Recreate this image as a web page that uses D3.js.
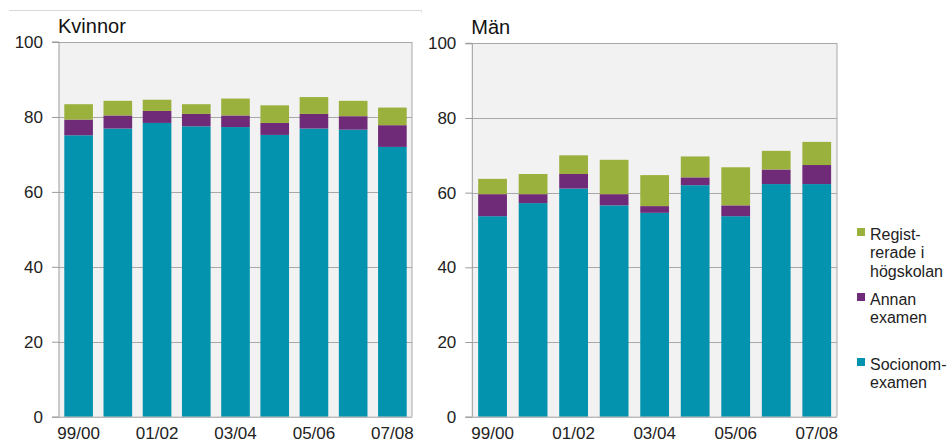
<!DOCTYPE html>
<html><head><meta charset="utf-8">
<script src="https://cdn.jsdelivr.net/npm/d3@7"></script>
<style>
html,body{margin:0;padding:0;background:#fff;}
svg{display:block;font-family:"Liberation Sans",Arial,sans-serif;}
</style></head>
<body><svg id="chart" width="947" height="443"></svg>
<script>
const categories = ["99/00","00/01","01/02","02/03","03/04","04/05","05/06","06/07","07/08"];
const tickLabels = ["99/00","01/02","03/04","05/06","07/08"];
const yTicks = [0,20,40,60,80,100];
const seriesNames = ["Socionomexamen","Annan examen","Registrerade i högskolan"];
const legendLabels = [["Regist-","rerade i","högskolan"],["Annan","examen"],["Socionom-","examen"]];
const colors = ["#0493AE","#6F2A78","#9BB13D"];

const kvinnorSocionom = [75.1,76.9,78.4,77.5,77.3,75.2,76.9,76.6,72.0];
const kvinnorAnnan    = [4.2,3.5,3.2,3.3,3.1,3.2,3.9,3.6,5.8];
const kvinnorReg      = [4.1,3.9,3.0,2.6,4.5,4.7,4.5,4.1,4.7];

const manSocionom = [53.7,57.2,61.1,56.6,54.6,62.0,53.7,62.3,62.3];
const manAnnan    = [5.9,2.4,3.9,3.0,1.8,2.1,2.9,3.9,5.1];
const manReg      = [4.1,5.4,5.0,9.2,8.3,5.6,10.2,5.0,6.2];

const svg = d3.select("#chart");

// top decorative line
svg.append("path").attr("d","M9,10.5H421.5V12.5").attr("fill","none").attr("stroke","#d9d9d9").attr("stroke-width",1);

function panel(title, a, b, c, x0, x1, yTop, padInner){
  const rows = categories.map((cat,i)=>({cat, s0:a[i], s1:b[i], s2:c[i]}));
  const stack = d3.stack().keys(["s0","s1","s2"])(rows);
  const x = d3.scaleBand().domain(categories).range([x0,x1]).paddingInner(padInner).paddingOuter(padInner/2);
  const y = d3.scaleLinear().domain([0,100]).range([416.7,yTop]);
  const g = svg.append("g");
  g.append("rect").attr("x",x0).attr("y",yTop).attr("width",x1-x0).attr("height",y(0)-yTop).attr("fill","#f2f2f2");
  // gridlines
  g.append("g").selectAll("line").data(yTicks.filter(t=>t>0)).join("line")
    .attr("x1",x0).attr("x2",x1).attr("y1",d=>Math.round(y(d))+0.5).attr("y2",d=>Math.round(y(d))+0.5)
    .attr("stroke","#a8a8a8").attr("stroke-width",1);
  // right border
  g.append("line").attr("x1",x1).attr("x2",x1).attr("y1",yTop).attr("y2",y(0)).attr("stroke","#a8a8a8");
  // bars
  g.append("g").selectAll("g").data(stack).join("g").attr("fill",(d,i)=>colors[i])
    .selectAll("rect").data(d=>d).join("rect")
    .attr("x",d=>x(d.data.cat)).attr("width",x.bandwidth())
    .attr("y",d=>y(d[1])).attr("height",d=>y(d[0])-y(d[1]));
  // y axis
  const ya = g.append("g").attr("transform",`translate(${x0},0)`)
    .call(d3.axisLeft(y).tickValues(yTicks).tickSize(7).tickPadding(9).tickFormat(d3.format("d")));
  ya.select(".domain").attr("stroke","#9a9a9a").attr("d",`M-7,${y(100)}H0V${y(0)}`);
  ya.selectAll(".tick line").attr("stroke","#9a9a9a");
  ya.selectAll("text").attr("font-size","17px").attr("fill","#222").attr("font-family","Liberation Sans, Arial, sans-serif");
  // x axis
  const xa = g.append("g").attr("transform",`translate(0,${y(0)})`)
    .call(d3.axisBottom(x).tickValues(tickLabels).tickSize(0).tickPadding(10));
  xa.select(".domain").attr("stroke","#9a9a9a").attr("d",`M${x0-7},0.5H${x1}`);
  xa.selectAll("text").attr("font-size","17px").attr("fill","#222").attr("font-family","Liberation Sans, Arial, sans-serif");
  // title
  g.append("text").attr("x",x0-1).attr("y",yTop-9).attr("font-size","20px").attr("fill","#111").text(title);
}

panel("Kvinnor", kvinnorSocionom, kvinnorAnnan, kvinnorReg, 59, 412, 42, 0.27);
panel("Män", manSocionom, manAnnan, manReg, 472.3, 837, 43.3, 0.29);

// legend
const legendY = [240, 305, 370];
const legendColors = [colors[2], colors[1], colors[0]];
const lg = svg.append("g");
legendLabels.forEach((lines,i)=>{
  lg.append("rect").attr("x",857).attr("y",legendY[i]-12).attr("width",8).attr("height",8).attr("fill",legendColors[i]);
  const t = lg.append("text").attr("x",870).attr("y",legendY[i]).attr("font-size","16px").attr("fill","#222");
  lines.forEach((ln,j)=>t.append("tspan").attr("x",870).attr("dy",j===0?0:18.3).text(ln));
});
</script></body></html>
